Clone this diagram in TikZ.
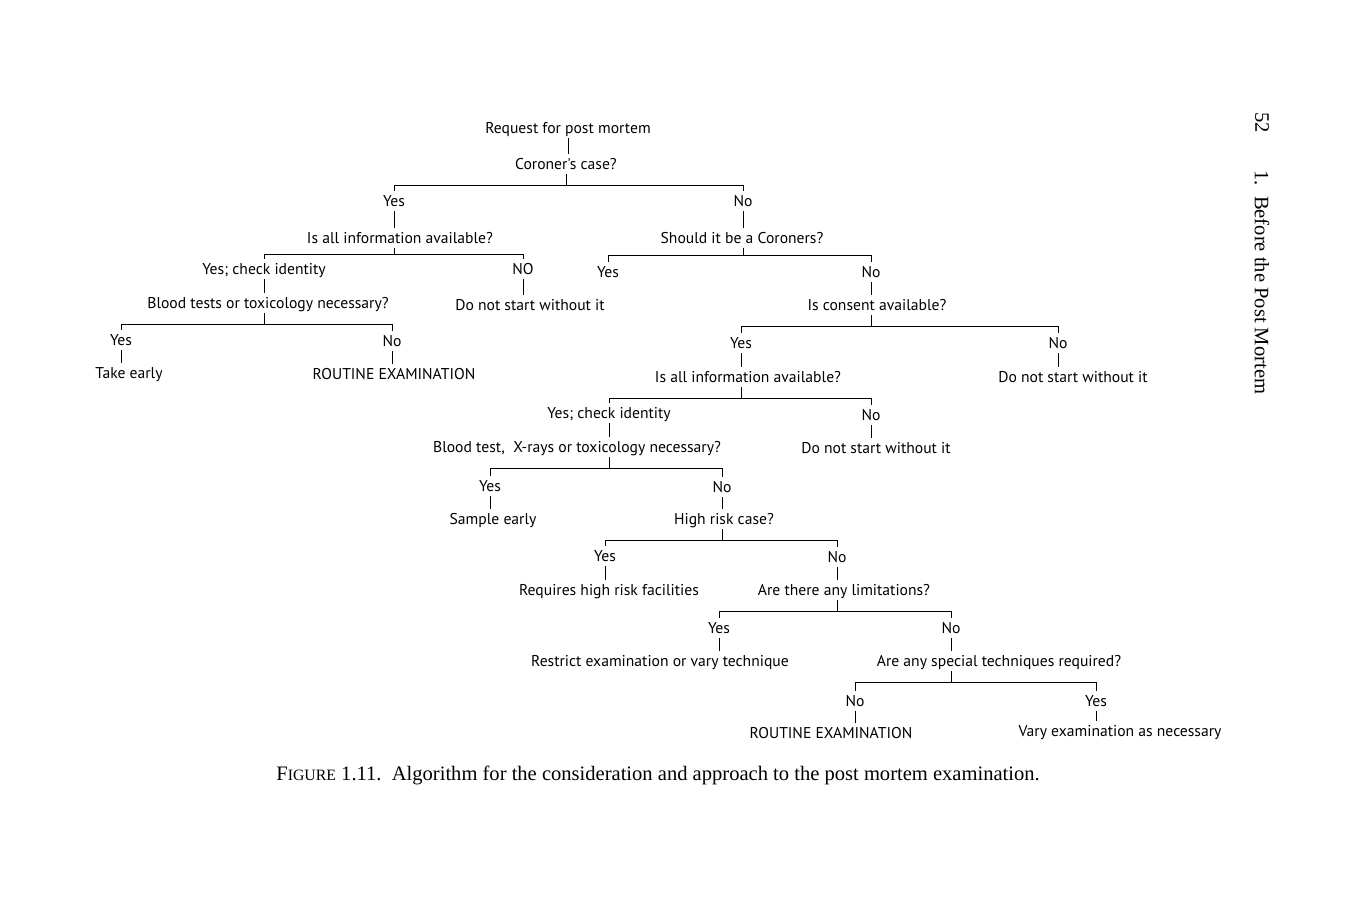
\documentclass[tikz,border=0pt]{standalone}
\usepackage{fontspec}
\setmainfont{Liberation Serif}
\newfontfamily\treefont{PT Sans}
\tikzset{
  q/.style={font=\treefont\fontsize{8.9}{10}\selectfont, inner sep=1pt, text height=7.5pt, text depth=1.5pt},
  ln/.style={line width=0.5pt}
}
\begin{document}
\begin{tikzpicture}[x=0.02cm,y=-0.02cm]
	\useasboundingbox (0,0) rectangle (1350,901);
	% top of the tree
	\node[q] (req) at (568,128) {Request for post mortem};
	\node[q] (cor) at (566,164) {Coroner's case?};
	\node[q] (a1y) at (394,201) {Yes};
	\node[q] (a1n) at (743,201) {No};
	% coroner's case
	\node[q] (info1) at (400,238) {Is all information available?};
	\node[q] (a2y) at (264,269) {Yes; check identity};
	\node[q] (a2n) at (523,269) {NO};
	\node[q] (blood1) at (268,303) {Blood tests or toxicology necessary?};
	\node[q] (dns1) at (530,305) {Do not start without it};
	\node[q] (a3y) at (121,340) {Yes};
	\node[q] (a3n) at (392,341) {No};
	\node[q] (take) at (129,373) {Take early};
	\node[q] (rout1) at (394,374) {ROUTINE EXAMINATION};
	% not a coroner's case
	\node[q] (should) at (742,238) {Should it be a Coroners?};
	\node[q] (a4y) at (608,272) {Yes};
	\node[q] (a4n) at (871,272) {No};
	\node[q] (consent) at (877,305) {Is consent available?};
	\node[q] (a5y) at (741,343) {Yes};
	\node[q] (a5n) at (1058,343) {No};
	\node[q] (info2) at (748,377) {Is all information available?};
	\node[q] (dns2) at (1073,377) {Do not start without it};
	\node[q] (a6y) at (609,413) {Yes; check identity};
	\node[q] (a6n) at (871,415) {No};
	\node[q] (blood2) at (577,447) {Blood test,\ \ X-rays or toxicology necessary?};
	\node[q] (dns3) at (876,448) {Do not start without it};
	\node[q] (a7y) at (490,486) {Yes};
	\node[q] (a7n) at (722,487) {No};
	\node[q] (sample) at (493,519) {Sample early};
	\node[q] (risk) at (724,519) {High risk case?};
	\node[q] (a8y) at (605,556) {Yes};
	\node[q] (a8n) at (837,557) {No};
	\node[q] (facil) at (609,590) {Requires high risk facilities};
	\node[q] (limit) at (844,590) {Are there any limitations?};
	\node[q] (a9y) at (719,628) {Yes};
	\node[q] (a9n) at (951,628) {No};
	\node[q] (restrict) at (660,661) {Restrict examination or vary technique};
	\node[q] (special) at (999,661) {Are any special techniques required?};
	\node[q] (a10n) at (855,701) {No};
	\node[q] (a10y) at (1096,701) {Yes};
	\node[q] (rout2) at (831,733) {ROUTINE EXAMINATION};
	\node[q] (vary) at (1120,731) {Vary examination as necessary};

	% branches
	\draw[ln] (req.south) -- (req.south |- cor.north);
	\draw[ln] (a1y.north) -- ++(0,-6) coordinate (b1) -| (a1n.north);
	\draw[ln] (cor.south) -- (cor.south |- b1);
	\draw[ln] (a1y.south) -- (a1y.south |- info1.north);
	\draw[ln] (a2y.north) -- ++(0,-5) coordinate (b2) -| (a2n.north);
	\draw[ln] (info1.south -| a1y) -- (b2 -| a1y);
	\draw[ln] (a2y.south) -- (a2y.south |- blood1.north);
	\draw[ln] (a2n.south) -- (a2n.south |- dns1.north);
	\draw[ln] (a3y.north) -- ++(0,-6) coordinate (b3) -| (a3n.north);
	\draw[ln] (blood1.south -| a2y) -- (b3 -| a2y);
	\draw[ln] (a3y.south) -- (a3y.south |- take.north);
	\draw[ln] (a3n.south) -- (a3n.south |- rout1.north);
	\draw[ln] (a1n.south) -- (a1n.south |- should.north);
	\draw[ln] (a4y.north) -- ++(0,-7) coordinate (b4) -| (a4n.north);
	\draw[ln] (should.south -| a1n) -- (b4 -| a1n);
	\draw[ln] (a4n.south) -- (a4n.south |- consent.north);
	\draw[ln] (a5y.north) -- ++(0,-7) coordinate (b5) -| (a5n.north);
	\draw[ln] (consent.south -| a4n) -- (b5 -| a4n);
	\draw[ln] (a5y.south) -- (a5y.south |- info2.north);
	\draw[ln] (a5n.south) -- (a5n.south |- dns2.north);
	\draw[ln] (a6y.north) -- ++(0,-5) coordinate (b6) -| (a6n.north);
	\draw[ln] (info2.south -| a5y) -- (b6 -| a5y);
	\draw[ln] (a6y.south) -- (a6y.south |- blood2.north);
	\draw[ln] (a6n.south) -- (a6n.south |- dns3.north);
	\draw[ln] (a7y.north) -- ++(0,-8) coordinate (b7) -| (a7n.north);
	\draw[ln] (blood2.south -| a6y) -- (b7 -| a6y);
	\draw[ln] (a7y.south) -- (a7y.south |- sample.north);
	\draw[ln] (a7n.south) -- (a7n.south |- risk.north);
	\draw[ln] (a8y.north) -- ++(0,-6) coordinate (b8) -| (a8n.north);
	\draw[ln] (risk.south -| a7n) -- (b8 -| a7n);
	\draw[ln] (a8y.south) -- (a8y.south |- facil.north);
	\draw[ln] (a8n.south) -- (a8n.south |- limit.north);
	\draw[ln] (a9y.north) -- ++(0,-7) coordinate (b9) -| (a9n.north);
	\draw[ln] (limit.south -| a8n) -- (b9 -| a8n);
	\draw[ln] (a9y.south) -- (a9y.south |- restrict.north);
	\draw[ln] (a9n.south) -- (a9n.south |- special.north);
	\draw[ln] (a10n.north) -- ++(0,-9) coordinate (b10) -| (a10y.north);
	\draw[ln] (special.south -| a9n) -- (b10 -| a9n);
	\draw[ln] (a10n.south) -- (a10n.south |- rout2.north);
	\draw[ln] (a10y.south) -- (a10y.south |- vary.north);

	% caption and running head
	\node[anchor=west, font=\fontsize{11.7}{14}\selectfont, inner sep=0pt] (cap) at (276,775)
		{F{\fontsize{9}{10}\selectfont IGURE} 1.11.\ \ Algorithm for the consideration and approach to the post mortem examination.};
	\node[rotate=-90, anchor=west, font=\fontsize{11.7}{14}\selectfont, inner sep=0pt] (page) at (1262,112) {52};
	\node[rotate=-90, anchor=west, font=\fontsize{11.7}{14}\selectfont, inner sep=0pt] (head) at (1262,170) {1.\ \ Before the Post Mortem};
\end{tikzpicture}
\end{document}
